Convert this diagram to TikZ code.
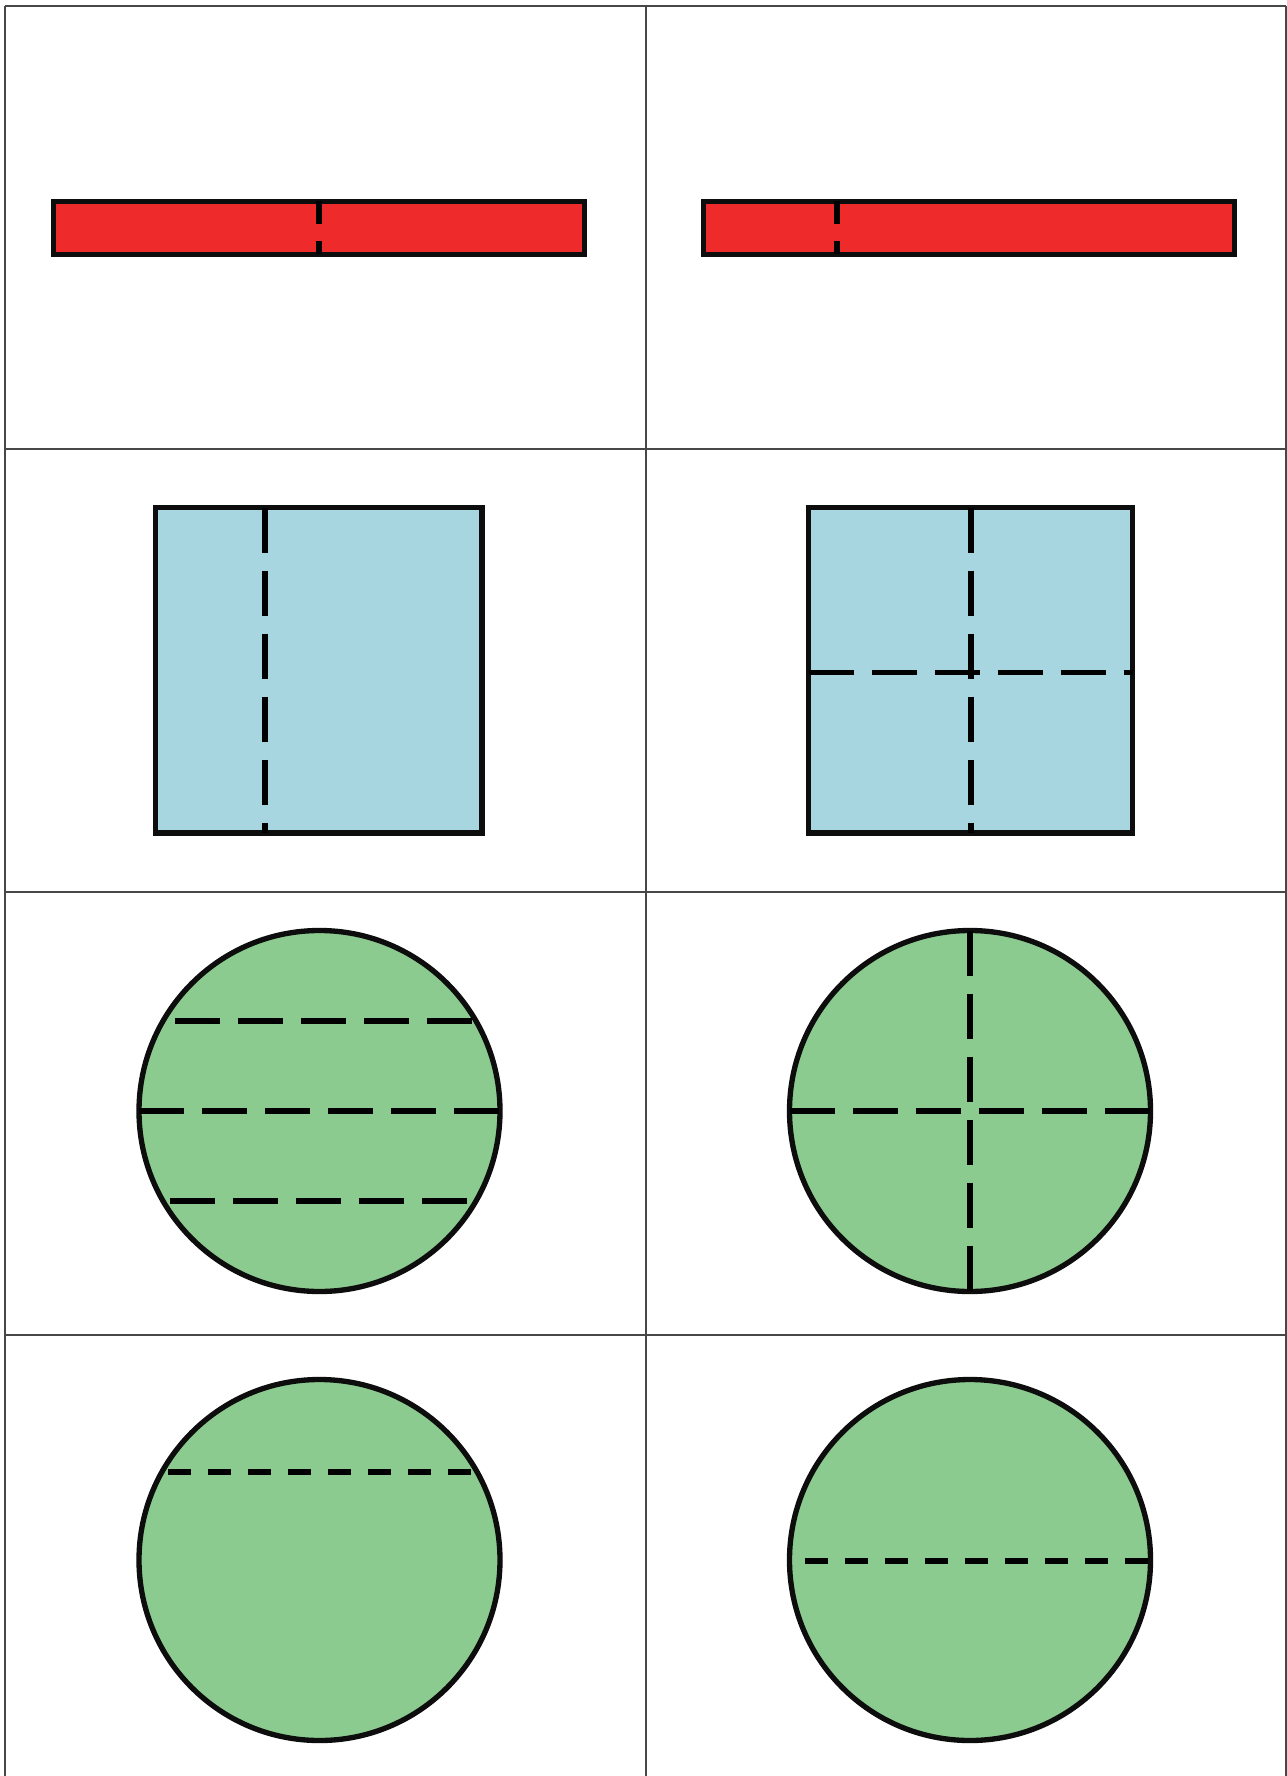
\documentclass[tikz,border=0pt]{standalone}
\begin{document}
\begin{tikzpicture}[x=0.75pt,y=-0.75pt,
  gridline/.style={draw=black!72,line width=1.5pt},
  shapeline/.style={draw=black!95,line width=4pt},
  longdash/.style={draw=black,line width=4pt,dash pattern=on 33.75pt off 13.5pt},
  shortdash/.style={draw=black,line width=4pt,dash pattern=on 17.25pt off 12.75pt},
  redfill/.style={fill=redc},
  bluefill/.style={fill=bluec},
  greenfill/.style={fill=greenc}]
\definecolor{redc}{RGB}{238,42,42}
\definecolor{bluec}{RGB}{168,214,224}
\definecolor{greenc}{RGB}{140,203,143}
\useasboundingbox (0,0) rectangle (1287,1776);
\fill[white] (0,0) rectangle (1287,1776);
% grid
\draw[gridline] (5,6) -- (1286,6);
\draw[gridline] (5,449) -- (1286,449);
\draw[gridline] (5,892) -- (1286,892);
\draw[gridline] (5,1335) -- (1286,1335);
\draw[gridline] (5,6) -- (5,1776);
\draw[gridline] (646,6) -- (646,1776);
\draw[gridline] (1286,6) -- (1286,1776);
% red bars
\draw[shapeline,redfill] (53.5,201.5) rectangle (584.5,254.5);
\draw[shortdash] (319,201.5) -- (319,254.5);
\draw[shapeline,redfill] (703.5,201.5) rectangle (1234.5,254.5);
\draw[shortdash] (837,201.5) -- (837,254.5);
% blue squares
\draw[shapeline,bluefill] (155.5,507.5) rectangle (482,833);
\draw[longdash] (265,507.5) -- (265,833);
\draw[shapeline,bluefill] (808.5,507.5) rectangle (1132.5,833);
\draw[longdash] (971,507.5) -- (971,833);
\draw[longdash] (808.5,672.5) -- (1132.5,672.5);
% green circles row 3
\draw[shapeline,greenfill] (319.5,1111) circle[radius=180.5];
\draw[longdash] (175,1021) -- (473,1021);
\draw[longdash] (139,1111) -- (500,1111);
\draw[longdash] (170,1201) -- (470,1201);
\draw[shapeline,greenfill] (970,1111) circle[radius=180.5];
\draw[longdash] (970,930.5) -- (970,1291.5);
\draw[longdash] (789.5,1111) -- (1150.5,1111);
% green circles row 4
\draw[shapeline,greenfill] (319.5,1560) circle[radius=180.5];
\draw[shortdash] (168,1472) -- (473,1472);
\draw[shapeline,greenfill] (970,1560) circle[radius=180.5];
\draw[shortdash] (805,1561) -- (1150.5,1561);
\end{tikzpicture}
\end{document}
